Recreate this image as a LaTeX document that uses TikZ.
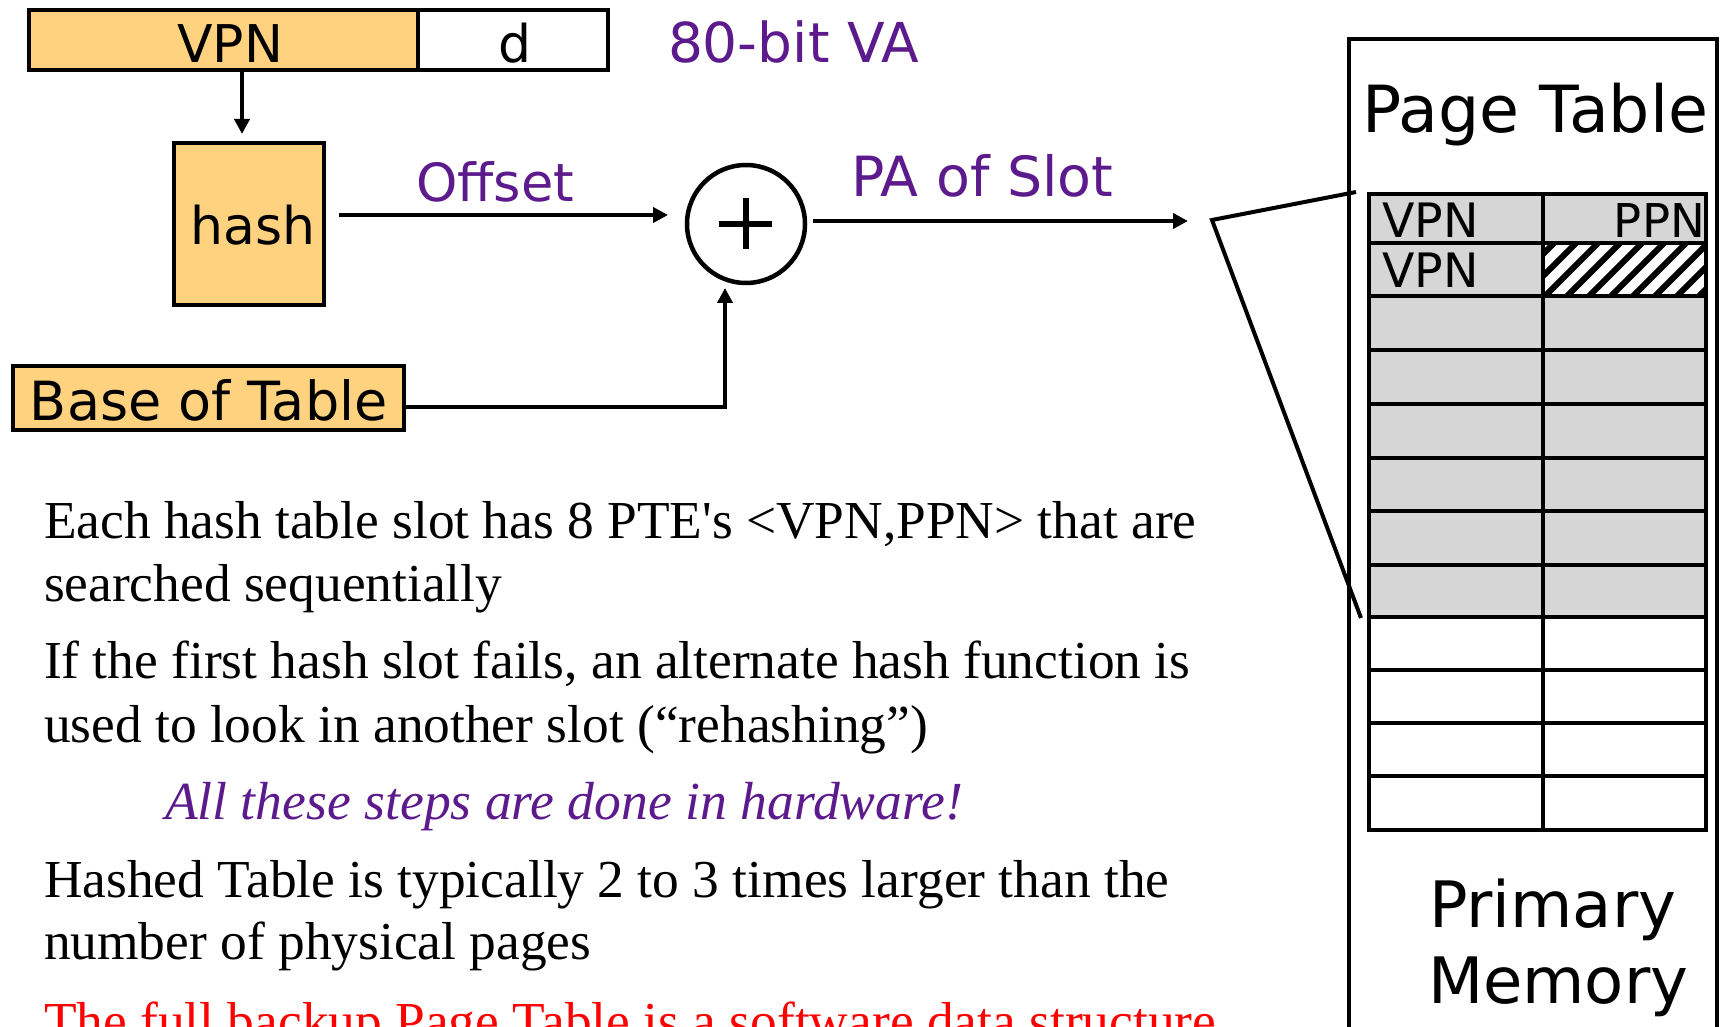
\documentclass[tikz,border=0pt]{standalone}
\usepackage{fontspec}
\setmainfont{Liberation Serif}
\newfontfamily\sansf{DejaVu Sans}
\usetikzlibrary{arrows.meta,calc}
\definecolor{vorange}{HTML}{FFD27F}
\definecolor{vpurple}{HTML}{5C1A8C}
\definecolor{vgray}{HTML}{D6D6D6}
\definecolor{vred}{HTML}{FF0000}
\begin{document}
\begin{tikzpicture}[x=0.5pt,y=-0.5pt,
  box/.style={draw=black,line width=2pt,outer sep=0pt,inner sep=0pt,anchor=north west},
  arr/.style={line width=2pt,-{Triangle[length=7.5pt,width=7.5pt]}},
  conn/.style={line width=2pt},
  grid/.style={line width=2.25pt},
  lbl/.style={inner sep=0pt,outer sep=0pt},
  sbig/.style={font=\sansf\fontsize{26pt}{30pt}\selectfont},
  body/.style={inner sep=0pt,outer sep=0pt,anchor=base west,font=\fontsize{26.7pt}{30pt}\selectfont}]
\path[use as bounding box] (0,0) rectangle (1720,1027);

% virtual address
\node[box,fill=vorange,minimum width=194.5pt,minimum height=30pt] (vpn) at (29,10) {};
\node[box,fill=white,minimum width=95pt,minimum height=30pt] (dfield) at (418,10) {};
\node[lbl,sbig,anchor=base] (vpnt) at (230,63) {VPN};
\node[lbl,sbig,anchor=base] (dt) at (515,63) {d};
\node[lbl,anchor=base west,text=vpurple,font=\sansf\fontsize{27.5pt}{30pt}\selectfont] (va) at (668,63) {80-bit VA};

% hash, base, adder
\node[box,fill=vorange,minimum width=75pt,minimum height=81pt] (hash) at (174,143) {};
\node[lbl,sbig,anchor=base] (hasht) at (253,245) {hash};
\node[box,fill=vorange,minimum width=195.5pt,minimum height=32pt] (base) at (13,366) {};
\node[lbl,anchor=base west,font=\sansf\fontsize{27pt}{30pt}\selectfont] (baset) at (30,421) {Base of Table};
\node[draw,circle,line width=2.25pt,minimum size=59pt,inner sep=0pt,outer sep=0pt] (circ) at (746,224) {};
\draw[line width=3pt] ([xshift=-13.5pt]circ.center) -- ([xshift=13pt]circ.center);
\draw[line width=3pt] ([yshift=13pt]circ.center) -- ([yshift=-12.5pt]circ.center);

\node[lbl,anchor=base west,text=vpurple,font=\sansf\fontsize{26.3pt}{30pt}\selectfont] (offt) at (416,202) {Offset};
\node[lbl,anchor=base west,text=vpurple,font=\sansf\fontsize{27.7pt}{30pt}\selectfont] (pat) at (851,197) {PA of Slot};

\coordinate (zc) at (1212,220);
\coordinate (ztop) at (1356,192);
\coordinate (zbot) at (1361,618);

% connectors
\draw[arr,shorten >=4.5pt] ([xshift=-3.5pt]hash.north |- vpn.south) -- ([xshift=-3.5pt]hash.north);
\draw[arr,shorten <=7.5pt,shorten >=9.5pt] ([yshift=4.5pt]hash.east) -- ([yshift=4.5pt]hash.east -| circ.west);
\draw[arr,shorten >=2.5pt] ([yshift=-4.5pt]base.east) -| ([xshift=-10.5pt]circ.south);
\draw[arr,shorten <=4pt,shorten >=12pt] ([yshift=1.5pt]circ.east) -- ([yshift=1.5pt]circ.east -| zc);

% memory box
\node[box,minimum width=184pt,minimum height=510pt] (mem) at (1349,39) {};
\node[lbl,anchor=base west,font=\sansf\fontsize{32.5pt}{36pt}\selectfont] (ptt) at (1362,133) {Page Table};
\node[lbl,anchor=base west,font=\sansf\fontsize{32pt}{36pt}\selectfont] (prim) at (1429,927) {Primary};
\node[lbl,anchor=base west,font=\sansf\fontsize{32pt}{36pt}\selectfont] (memt) at (1428,1003) {Memory};

% table
\fill[vgray] (1369,194) rectangle (1706,617);
\begin{scope}
\clip (1543,243) rectangle (1706,296);
\fill[white] (1543,243) rectangle (1706,296);
\foreach \i in {-3,...,8} \draw[line width=3pt] (1545+22*\i,296) -- (1545+22*\i+55,241);
\end{scope}
\foreach \yy in {243,296,350,404,458,511,565,617,670,723,776} \draw[grid] (1369,\yy) -- (1706,\yy);
\draw[grid] (1543,194) -- (1543,830);
\node[box,line width=2.25pt,minimum width=168.5pt,minimum height=318pt] (tbl) at (1369,194) {};
\node[lbl,anchor=base west,font=\sansf\fontsize{23.7pt}{28pt}\selectfont] (c1) at (1382,238) {VPN};
\node[lbl,anchor=base east,font=\sansf\fontsize{23.3pt}{28pt}\selectfont] (c2) at (1705,238) {PPN};
\node[lbl,anchor=base west,font=\sansf\fontsize{23.7pt}{28pt}\selectfont] (c3) at (1382,288) {VPN};

% zoom lines
\draw[conn,line join=miter] (ztop) -- (zc) -- (zbot);

% body text
\node[body] (l1) at (44,538) {Each hash table slot has 8 PTE\textquotesingle s <VPN,PPN> that are};
\node[body] (l2) at (44,601) {searched sequentially};
\node[body] (l3) at (44,678) {If the first hash slot fails, an alternate hash function is};
\node[body] (l4) at (44,742) {used to look in another slot (“rehashing”)};
\node[body,text=vpurple,font=\itshape\fontsize{26.8pt}{30pt}\selectfont] (l5) at (165,819) {All these steps are done in hardware!};
\node[body] (l6) at (44,897) {Hashed Table is typically 2 to 3 times larger than the};
\node[body] (l7) at (44,959) {number of physical pages};
\node[body,text=vred] (l8) at (44,1039) {The full backup Page Table is a software data structure};
\end{tikzpicture}
\end{document}
